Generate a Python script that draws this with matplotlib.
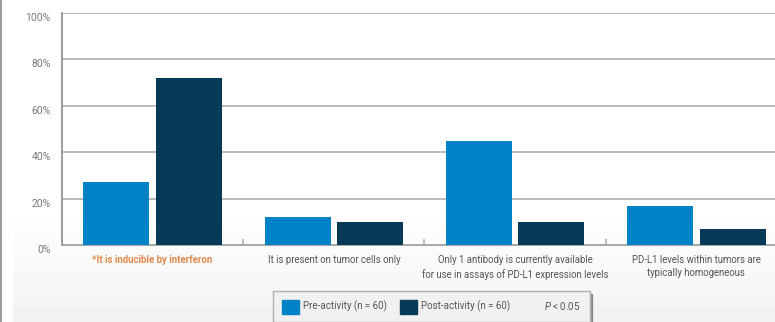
import numpy as np
import matplotlib.pyplot as plt
from matplotlib.patches import Patch
from matplotlib.lines import Line2D

plt.rcParams['font.family'] = ['Roboto', 'DejaVu Sans']
plt.rcParams['mathtext.fontset'] = 'custom'
plt.rcParams['mathtext.it'] = 'Roboto:italic'
plt.rcParams['mathtext.rm'] = 'Roboto'

# survey answers, % of respondents
categories = ['*It is inducible by interferon',
              'It is present on tumor cells only',
              'Only 1 antibody is currently available\nfor use in assays of PD-L1 expression levels',
              'PD-L1 levels within tumors are\ntypically homogeneous']
pre = [27, 12, 45, 17]
post = [72, 10, 10, 7]
yticks = [0, 20, 40, 60, 80, 100]
series_names = ['Pre-activity (n = 60)', 'Post-activity (n = 60)']
note = r'$P$ < 0.05'

pre_color = '#0083c6'
post_color = '#063a56'

fig = plt.figure(figsize=(7.75, 3.22), dpi=100)

# faint grey fade at the bottom of the panel
bg = fig.add_axes([0, 0, 1, 1], zorder=0)
grad = np.ones((322, 1))
fade = np.clip((np.arange(322) - 208) / 114, 0, 1)
grad[:, 0] = 1 - 0.05 * fade
bg.imshow(grad, cmap='gray', vmin=0, vmax=1, aspect='auto',
          extent=[13, 775, 322, 0])
bg.set_xlim(0, 775)
bg.set_ylim(322, 0)
bg.axvline(1, color='#9a9a9a', lw=1.5)
bg.axis('off')

ax = fig.add_axes([62 / 775, 77 / 322, 725 / 775, 232 / 322], zorder=1)
ax.patch.set_alpha(0)

x = np.arange(len(categories))
w = 0.365
ax.bar(x - 0.2, pre, w, color=pre_color, zorder=3)
ax.bar(x + 0.2, post, w, color=post_color, zorder=3)

ax.set_xlim(-0.5, 3.5)
ax.set_ylim(0, 100)
ax.set_yticks(yticks)
ax.set_yticklabels([f'{v}%' for v in yticks], color='#777777', fontsize=7.5,
                   va='top')
ax.tick_params(axis='y', length=0, pad=8)
for v in yticks[1:]:
    ax.axhline(v, color='#b4b4b4', lw=1.3, zorder=1)

ax.set_xticks(x)
ax.set_xticklabels(categories, fontsize=6.9, color='#555555', linespacing=1.45)
ax.tick_params(axis='x', length=0, pad=7)
ax.get_xticklabels()[0].set_color('#e28a4c')
ax.get_xticklabels()[0].set_fontweight('bold')
ax.set_xticks([0.5, 1.5, 2.5], minor=True)
ax.tick_params(axis='x', which='minor', direction='in', length=4,
               color='#b4b4b4', width=1.3)

for s in ['top', 'right']:
    ax.spines[s].set_visible(False)
ax.spines['left'].set_color('#8a8a8a')
ax.spines['bottom'].set_color('#a0a0a0')
ax.spines['left'].set_linewidth(1.2)
ax.spines['bottom'].set_linewidth(1.3)

handles = [Patch(color=pre_color), Patch(color=post_color),
           Line2D([], [], color='none')]
leg = fig.legend(handles, series_names + [note], ncol=3,
                 loc='upper left', bbox_to_anchor=(273 / 775, 1 - 291 / 322),
                 borderaxespad=0, fontsize=7, frameon=True, fancybox=False,
                 shadow=True, handlelength=1.8, handleheight=1.8,
                 handletextpad=0.4, columnspacing=1.3, borderpad=0.9,
                 labelcolor='#555555')
leg.get_frame().set_facecolor('#f1f1f1')
leg.get_frame().set_edgecolor('#b0b0b0')

fig.savefig('out.png', dpi=100)
